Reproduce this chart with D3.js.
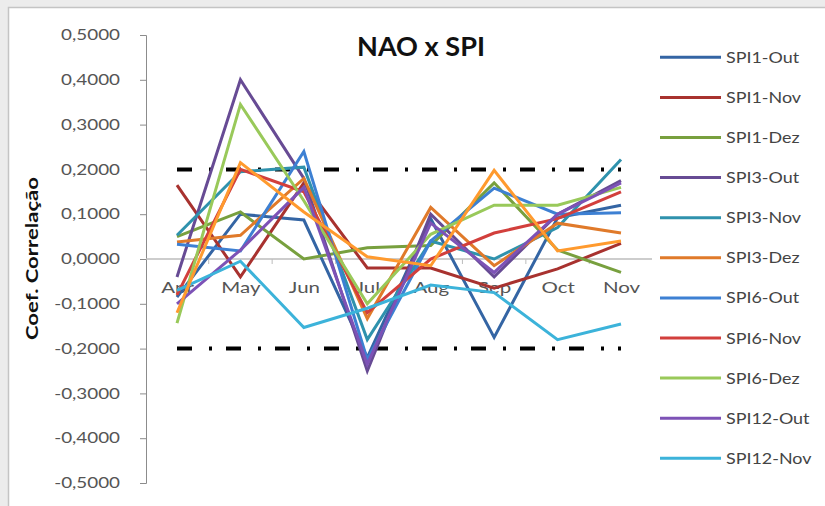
<!DOCTYPE html>
<html>
<head>
<meta charset="utf-8">
<script src="https://cdn.jsdelivr.net/npm/d3@7"></script>
<style>
  html, body { margin: 0; padding: 0; background: #ececec; }
  svg { display: block; }
</style>
</head>
<body>
<svg id="chart" width="825" height="506"></svg>
<script>
// Correlation coefficients between NAO and SPI indices, by month
const months = ["Apr", "May", "Jun", "Jul", "Aug", "Sep", "Oct", "Nov"];

const spi1Out  = [-0.085, 0.100, 0.087, -0.220, 0.090, -0.175, 0.092, 0.120];
const spi1Nov  = [ 0.165, -0.040, 0.170, -0.020, -0.020, -0.065, -0.022, 0.035];
const spi1Dez  = [ 0.050, 0.105, 0.000, 0.025, 0.030, 0.170, 0.020, -0.030];
const spi3Out  = [-0.040, 0.400, 0.180, -0.250, 0.100, -0.040, 0.100, 0.175];
const spi3Nov  = [ 0.053, 0.195, 0.205, -0.180, 0.040, 0.000, 0.070, 0.222];
const spi3Dez  = [ 0.038, 0.053, 0.180, -0.133, 0.115, -0.015, 0.080, 0.058];
const spi6Out  = [ 0.033, 0.018, 0.240, -0.225, 0.040, 0.158, 0.100, 0.103];
const spi6Nov  = [-0.080, 0.200, 0.150, -0.120, 0.000, 0.058, 0.090, 0.150];
const spi6Dez  = [-0.143, 0.345, 0.130, -0.100, 0.055, 0.120, 0.120, 0.160];
const spi12Out = [-0.100, 0.020, 0.160, -0.235, 0.080, -0.030, 0.100, 0.170];
const spi12Nov = [-0.070, -0.005, -0.153, -0.110, -0.058, -0.075, -0.180, -0.145];
const spi12Dez = [-0.120, 0.215, 0.105, 0.005, -0.015, 0.198, 0.018, 0.040];

const seriesNames = ["SPI1-Out", "SPI1-Nov", "SPI1-Dez", "SPI3-Out", "SPI3-Nov", "SPI3-Dez",
                     "SPI6-Out", "SPI6-Nov", "SPI6-Dez", "SPI12-Out", "SPI12-Nov", "SPI12-Dez"];
const seriesValues = [spi1Out, spi1Nov, spi1Dez, spi3Out, spi3Nov, spi3Dez,
                      spi6Out, spi6Nov, spi6Dez, spi12Out, spi12Nov, spi12Dez];
const seriesColors = ["#3465a4", "#a8322f", "#78a03e", "#674b94", "#2f92ad", "#e07a2a",
                      "#3d80d3", "#d23f3c", "#99c95a", "#7d52b6", "#3cb3da", "#ff9a2e"];
const legendCount = 11;

// significance limits
const limits = [0.2, -0.2];
const yTicks = [0.5, 0.4, 0.3, 0.2, 0.1, 0, -0.1, -0.2, -0.3, -0.4, -0.5];

const svg = d3.select("#chart");
const font = "Lato, 'Open Sans', 'DejaVu Sans', sans-serif";
const textColor = "#555";

// chart area frame
svg.append("rect")
  .attr("x", 8.5).attr("y", 7.5)
  .attr("width", 840).attr("height", 520)
  .attr("fill", "#ffffff")
  .attr("stroke", "#c4c4c4").attr("stroke-width", 1.5);

const x = d3.scalePoint().domain(months).range([177, 621]);
const y = d3.scaleLinear().domain([-0.5, 0.5]).range([483, 35]);
const plotLeft = 146, plotRight = 652;

const fmt = v => d3.format(".4f")(v).replace(".", ",").replace("−", "-");

// vertical axis
const tickSX = 1.3, tickEnd = -26;
const yAxis = d3.axisLeft(y).tickValues(yTicks).tickSize(6).tickPadding(20).tickFormat(fmt);
const gy = svg.append("g").attr("transform", `translate(${plotLeft},0)`).call(yAxis);
gy.select(".domain").attr("stroke", "#8c8c8c").attr("stroke-width", 1);
gy.selectAll(".tick line").attr("stroke", "#8c8c8c");
gy.selectAll(".tick text")
  .attr("x", tickEnd / tickSX)
  .attr("transform", `scale(${tickSX},1)`)
  .attr("font-family", font).attr("font-size", 14.5).attr("fill", textColor);

// horizontal axis along zero
const catSX = 1.28;
const xAxis = d3.axisBottom(x).tickSize(0).tickPadding(23);
const gx = svg.append("g").attr("transform", `translate(0,${y(0)})`).call(xAxis);
gx.select(".domain").attr("d", `M${plotLeft},0H${plotRight}`)
  .attr("stroke", "#bdbdbd").attr("stroke-width", 1.5);
gx.selectAll(".tick text")
  .attr("transform", `scale(${catSX},1)`)
  .attr("font-family", font).attr("font-size", 16).attr("fill", textColor);
const step = x.step();
svg.append("g").selectAll("line")
  .data(months.slice(1))
  .join("line")
  .attr("x1", d => x(d) - step / 2).attr("x2", d => x(d) - step / 2)
  .attr("y1", y(0)).attr("y2", y(0) + 5)
  .attr("stroke", "#bdbdbd");

// limit lines
svg.append("g").selectAll("line")
  .data(limits)
  .join("line")
  .attr("x1", x(months[0])).attr("x2", x(months[months.length - 1]))
  .attr("y1", d => y(d)).attr("y2", d => y(d))
  .attr("stroke", "#000").attr("stroke-width", 4)
  .attr("stroke-dasharray", "15,17,3,14");

// series lines
const line = d3.line().x((d, i) => x(months[i])).y(d => y(d));
svg.append("g").selectAll("path")
  .data(seriesValues)
  .join("path")
  .attr("d", d => line(d))
  .attr("fill", "none")
  .attr("stroke", (d, i) => seriesColors[i])
  .attr("stroke-width", 3)
  .attr("stroke-linejoin", "miter");

// title
svg.append("text")
  .attr("x", 421).attr("y", 56)
  .attr("text-anchor", "middle")
  .attr("font-family", font).attr("font-weight", "bold").attr("font-size", 26)
  .attr("textLength", 128).attr("lengthAdjust", "spacingAndGlyphs")
  .attr("fill", "#111")
  .text("NAO x SPI");

// axis title
svg.append("text")
  .attr("transform", "translate(38,258.5) rotate(-90)")
  .attr("text-anchor", "middle")
  .attr("font-family", font).attr("font-weight", "bold").attr("font-size", 17)
  .attr("textLength", 163).attr("lengthAdjust", "spacingAndGlyphs")
  .attr("fill", "#111")
  .text("Coef. Correlação");

// legend
const legSX = 1.12;
const lg = svg.append("g").selectAll("g")
  .data(seriesNames.slice(0, legendCount))
  .join("g")
  .attr("transform", (d, i) => `translate(660,${57.3 + i * 40.1})`);
lg.append("line")
  .attr("x1", 0).attr("x2", 61).attr("y1", 0).attr("y2", 0)
  .attr("stroke", (d, i) => seriesColors[i]).attr("stroke-width", 3);
lg.append("text")
  .attr("x", 66 / legSX).attr("y", 5.5)
  .attr("transform", `scale(${legSX},1)`)
  .attr("font-family", font).attr("font-size", 16).attr("fill", "#444")
  .text(d => d);
</script>
</body>
</html>
